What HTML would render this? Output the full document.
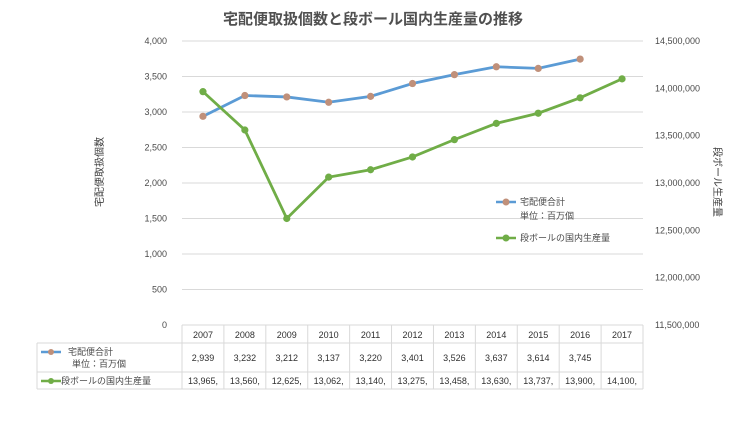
<!DOCTYPE html>
<html><head><meta charset="utf-8"><style>
body{margin:0;background:#fff;width:746px;height:422px;overflow:hidden;font-family:"Liberation Sans","Noto Sans CJK JP",sans-serif;}
svg text{font-family:"Liberation Sans","Noto Sans CJK JP",sans-serif;}
</style></head><body>
<svg id="chart" width="746" height="422" xmlns="http://www.w3.org/2000/svg"></svg>
<script>
const categories=["2007","2008","2009","2010","2011","2012","2013","2014","2015","2016","2017"];
const parcels=[2939,3232,3212,3137,3220,3401,3526,3637,3614,3745,null];
const cardboard=[13965,13560,12625,13062,13140,13275,13458,13630,13737,13900,14100];
const leftTicks=[0,500,1000,1500,2000,2500,3000,3500,4000];
const rightTicks=[11500000,12000000,12500000,13000000,13500000,14000000,14500000];
const NS="http://www.w3.org/2000/svg";
const svg=document.getElementById('chart');
const X0=182,X1=643,Y0=325,Y1=41;
const bw=(X1-X0)/categories.length;
const xc=i=>X0+bw*(i+0.5);
const yL=v=>Y0-(v/4000)*(Y0-Y1);
const yR=v=>Y0-((v-11500000)/3000000)*(Y0-Y1);
function mk(t,a,p){const e=document.createElementNS(NS,t);for(const k in a)e.setAttribute(k,a[k]);(p||svg).appendChild(e);return e;}
function tx(x,y,s,o){const e=mk('text',Object.assign({x:x,y:y,'font-size':9,fill:'#4a4a4a'},o||{}));e.textContent=s;return e;}
const fmt=n=>n.toLocaleString('en-US');
let t=tx(373,24,'宅配便取扱個数と段ボール国内生産量の推移',{'font-size':15,'text-anchor':'middle',fill:'#505050','font-weight':'bold'});


leftTicks.forEach(v=>{
  if(v>0){const l=mk('line',{x1:X0,x2:X1,y1:yL(v),y2:yL(v),stroke:'#d9d9d9','stroke-width':1});
  
  }
  const e=tx(167,yL(v)+3,fmt(v),{'text-anchor':'end'});
  
  
});
rightTicks.forEach(v=>{
  const e=tx(655,yR(v)+3,fmt(v));
  
  
});
t=tx(0,0,'宅配便取扱個数',{'font-size':10,'text-anchor':'middle',transform:'translate(103,172) rotate(-90)',fill:'#404040'});


t=tx(0,0,'段ボール生産量',{'font-size':10,'text-anchor':'middle',transform:'translate(714,182) rotate(90)',fill:'#404040'});


function series(vals,yf,color,mcolor,name){
  const pts=[];vals.forEach((v,i)=>{if(v!=null)pts.push([xc(i),yf(v)]);});
  const pl=mk('polyline',{points:pts.map(p=>p.join(',')).join(' '),fill:'none',stroke:color,'stroke-width':2.8});
  
  
  pts.forEach(p=>{const c=mk('circle',{cx:p[0],cy:p[1],r:3.6,fill:mcolor});
  
  });
}
series(parcels,yL,'#5b9bd5','#c0907a','parcels');
series(cardboard.map(v=>v*1000),yR,'#70ad47','#70ad47','cardboard');
const lg=mk('g',{});


mk('line',{x1:496,x2:516,y1:202,y2:202,stroke:'#5b9bd5','stroke-width':2.5},lg);
mk('circle',{cx:506,cy:202,r:3.5,fill:'#c0907a'},lg);
t=tx(520,205,'宅配便合計',{});


tx(520,219,'単位：百万個',{});
mk('line',{x1:496,x2:516,y1:238,y2:238,stroke:'#70ad47','stroke-width':2.5},lg);
mk('circle',{cx:506,cy:238,r:3.5,fill:'#70ad47'},lg);
t=tx(520,241,'段ボールの国内生産量',{});


const tb=mk('g',{});


const r0=325,r1=343,r2=372,r3=389,L=37;
const gs={stroke:'#d9d9d9','stroke-width':1};
[r0,r1,r2,r3].forEach((y,k)=>mk('line',Object.assign({x1:k==0?X0:L,x2:X1,y1:y,y2:y},gs),tb));
mk('line',Object.assign({x1:L,x2:L,y1:r1,y2:r3},gs),tb);
for(let i=0;i<=categories.length;i++)mk('line',Object.assign({x1:X0+bw*i,x2:X0+bw*i,y1:r0,y2:r3},gs),tb);
categories.forEach((c,i)=>{
  tx(xc(i),r0+13,c,{'text-anchor':'middle',fill:'#303030'});
  if(parcels[i]!=null)tx(xc(i),r1+18,fmt(parcels[i]),{'text-anchor':'middle',fill:'#303030'});
  tx(xc(i),r2+12,fmt(cardboard[i])+',',{'text-anchor':'middle',fill:'#303030'});
});
mk('line',{x1:41,x2:61,y1:352,y2:352,stroke:'#5b9bd5','stroke-width':2.5},tb);
mk('circle',{cx:51,cy:352,r:3,fill:'#c0907a'},tb);
tx(68,355,'宅配便合計',{});
tx(72,367,'単位：百万個',{});
mk('line',{x1:41,x2:61,y1:381,y2:381,stroke:'#70ad47','stroke-width':2.5},tb);
mk('circle',{cx:51,cy:381,r:3,fill:'#70ad47'},tb);
tx(61,384,'段ボールの国内生産量',{});
</script>
</body></html>
